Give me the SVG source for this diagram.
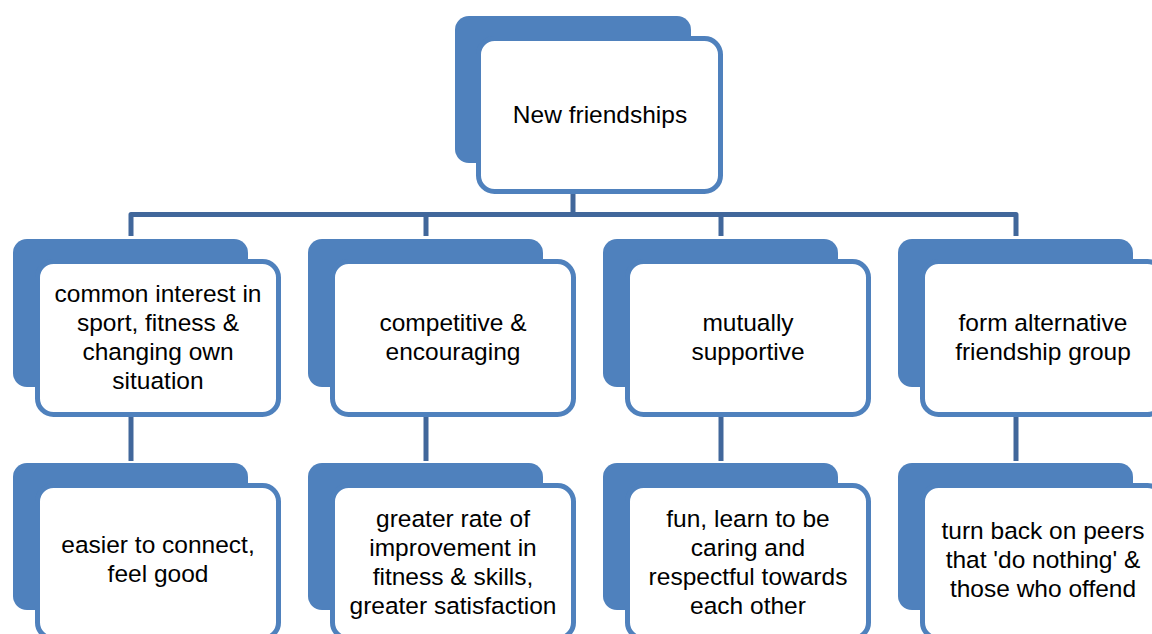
<svg xmlns="http://www.w3.org/2000/svg" width="1152" height="634" viewBox="0 0 1152 634">
<style>
.back{fill:#4F81BD}
.front{fill:#FFFFFF;stroke:#4F81BD;stroke-width:5}
.conn{fill:none;stroke:#41679B;stroke-width:5;stroke-linejoin:round}
text{font-family:"Liberation Sans",Arial,sans-serif;font-size:24.5px;fill:#000000;text-anchor:middle}
</style>
<rect width="1152" height="634" fill="#FFFFFF"/>
<g id="connectors">
<path class="conn" d="M573 194 V214.5"/>
<path class="conn" d="M131 236 V214.5 H1016 V236"/>
<path class="conn" d="M426 214.5 V236"/>
<path class="conn" d="M721 214.5 V236"/>
<path class="conn" d="M131 417 V461"/>
<path class="conn" d="M426 417 V461"/>
<path class="conn" d="M721 417 V461"/>
<path class="conn" d="M1016 417 V461"/>
</g>
<g id="n0">
<rect class="back" x="455" y="16" width="236" height="147" rx="14"/>
<rect class="front" x="478.5" y="38.5" width="242" height="153" rx="16"/>
<text x="600" y="123">New friendships</text>
</g>
<g id="n1">
<rect class="back" x="13" y="239" width="235" height="148" rx="14"/>
<rect class="front" x="37.5" y="261.5" width="241" height="153" rx="16"/>
<text x="158" y="302">common interest in</text>
<text x="158" y="331">sport, fitness &amp;</text>
<text x="158" y="360">changing own</text>
<text x="158" y="389">situation</text>
</g>
<g id="n2">
<rect class="back" x="308" y="239" width="235" height="148" rx="14"/>
<rect class="front" x="332.5" y="261.5" width="241" height="153" rx="16"/>
<text x="453" y="331">competitive &amp;</text>
<text x="453" y="360">encouraging</text>
</g>
<g id="n3">
<rect class="back" x="603" y="239" width="235" height="148" rx="14"/>
<rect class="front" x="627.5" y="261.5" width="241" height="153" rx="16"/>
<text x="748" y="331">mutually</text>
<text x="748" y="360">supportive</text>
</g>
<g id="n4">
<rect class="back" x="898" y="239" width="235" height="148" rx="14"/>
<rect class="front" x="922.5" y="261.5" width="241" height="153" rx="16"/>
<text x="1043" y="331">form alternative</text>
<text x="1043" y="360">friendship group</text>
</g>
<g id="n5">
<rect class="back" x="13" y="463" width="235" height="147" rx="14"/>
<rect class="front" x="37.5" y="485.5" width="241" height="153" rx="16"/>
<text x="158" y="553">easier to connect,</text>
<text x="158" y="582">feel good</text>
</g>
<g id="n6">
<rect class="back" x="308" y="463" width="235" height="147" rx="14"/>
<rect class="front" x="332.5" y="485.5" width="241" height="153" rx="16"/>
<text x="453" y="527">greater rate of</text>
<text x="453" y="556">improvement in</text>
<text x="453" y="585">fitness &amp; skills,</text>
<text x="453" y="614">greater satisfaction</text>
</g>
<g id="n7">
<rect class="back" x="603" y="463" width="235" height="147" rx="14"/>
<rect class="front" x="627.5" y="485.5" width="241" height="153" rx="16"/>
<text x="748" y="527">fun, learn to be</text>
<text x="748" y="556">caring and</text>
<text x="748" y="585">respectful towards</text>
<text x="748" y="614">each other</text>
</g>
<g id="n8">
<rect class="back" x="898" y="463" width="235" height="147" rx="14"/>
<rect class="front" x="922.5" y="485.5" width="241" height="153" rx="16"/>
<text x="1043" y="539">turn back on peers</text>
<text x="1043" y="568">that 'do nothing' &amp;</text>
<text x="1043" y="597">those who offend</text>
</g>
</svg>
